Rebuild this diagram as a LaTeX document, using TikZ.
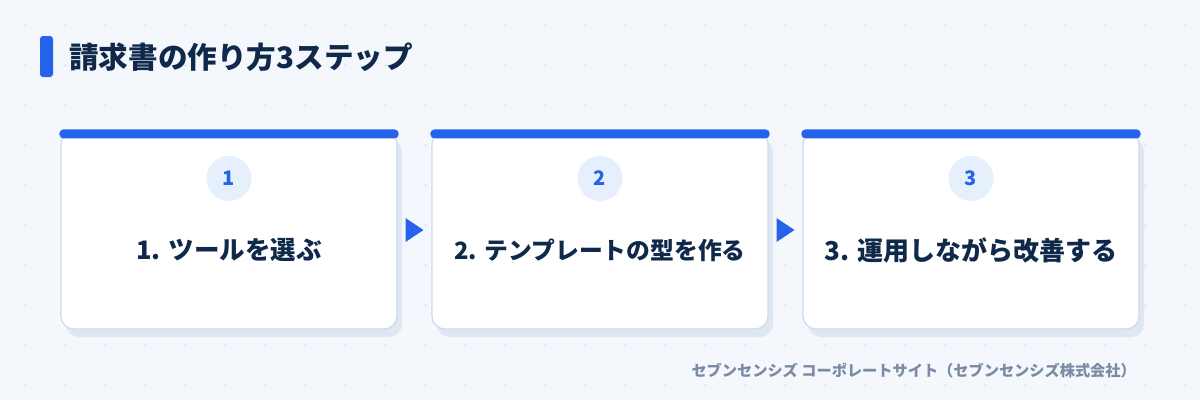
\documentclass[tikz,border=0pt]{standalone}
\usepackage{fontspec}
\setmainfont{Noto Sans CJK JP}
\usetikzlibrary{calc,shadows}

\definecolor{paperbg}{HTML}{F4F7FC}
\definecolor{gridmark}{HTML}{DCE3EE}
\definecolor{stepblue}{HTML}{2563EB}
\definecolor{inkdark}{HTML}{10284A}
\definecolor{cardline}{HTML}{CCDAEE}
\definecolor{cardshadow}{HTML}{DFE7F3}
\definecolor{dotfill}{HTML}{E6EFFC}
\definecolor{footink}{HTML}{7B8AA5}

\tikzset{
  stepcard/.style={draw=cardline, line width=1.2pt, fill=white, rounded corners=13pt,
    minimum width=336pt, minimum height=198pt, inner sep=0pt,
    drop shadow={shadow xshift=5pt, shadow yshift=-8pt, fill=cardshadow, opacity=1}},
  numdot/.style={circle, fill=dotfill, minimum size=45pt, inner sep=0pt,
    text=stepblue, font=\bfseries\fontsize{20}{24}\selectfont},
  steplabel/.style={text=inkdark, inner sep=0pt}
}

\begin{document}
\begin{tikzpicture}[x=1pt, y=-1pt]
  \fill[paperbg] (0,0) rectangle (1200,400);
  \useasboundingbox (0,0) rectangle (1200,400);

  % dotted grid
  \foreach \i in {0,...,29}
    \foreach \j in {0,...,9}
      \draw[gridmark, line width=0.8pt] (23.5+40*\i,25+40*\j) -- ++(3,0) (25+40*\i,23.5+40*\j) -- ++(0,3);

  % heading
  \node[fill=stepblue, rounded corners=3pt, minimum width=13pt, minimum height=41pt, inner sep=0pt] (tab) at (46.5,56.5) {};
  \node[anchor=west, inner sep=0pt, text=inkdark, font=\bfseries\fontsize{29.6}{34}\selectfont] (title) at (69,57.5) {請求書の作り方3ステップ};

  % the three steps
  \foreach \n/\cx/\fs/\txt in {1/229/25.5/{1. ツールを選ぶ}, 2/600/23.8/{2. テンプレートの型を作る}, 3/971/26/{3. 運用しながら改善する}} {
    \node[stepcard] (card\n) at (\cx,230) {};
    \fill[stepblue, rounded corners=4pt] ($(card\n.north west)+(-1,-1)$) rectangle ($(card\n.north east)+(1,8)$);
    \node[numdot] (num\n) at ($(card\n.north)+(0,48)$) {\n};
    \node[steplabel, font=\bfseries\fontsize{\fs}{30}\selectfont] (label\n) at ($(card\n.center)+(0,20)$) {\txt};
  }

  % arrow heads between cards
  \foreach \a/\b in {1/2, 2/3}
    \fill[stepblue] ($(card\a.east)!.5!(card\b.west)+(-9,-12)$) -- ++(18,12) -- ++(-18,12) -- cycle;

  \node[anchor=east, inner sep=0pt, text=footink, font=\bfseries\fontsize{15.2}{18}\selectfont] (source) at (1136,371) {セブンセンシズ コーポレートサイト（セブンセンシズ株式会社）};
\end{tikzpicture}
\end{document}
